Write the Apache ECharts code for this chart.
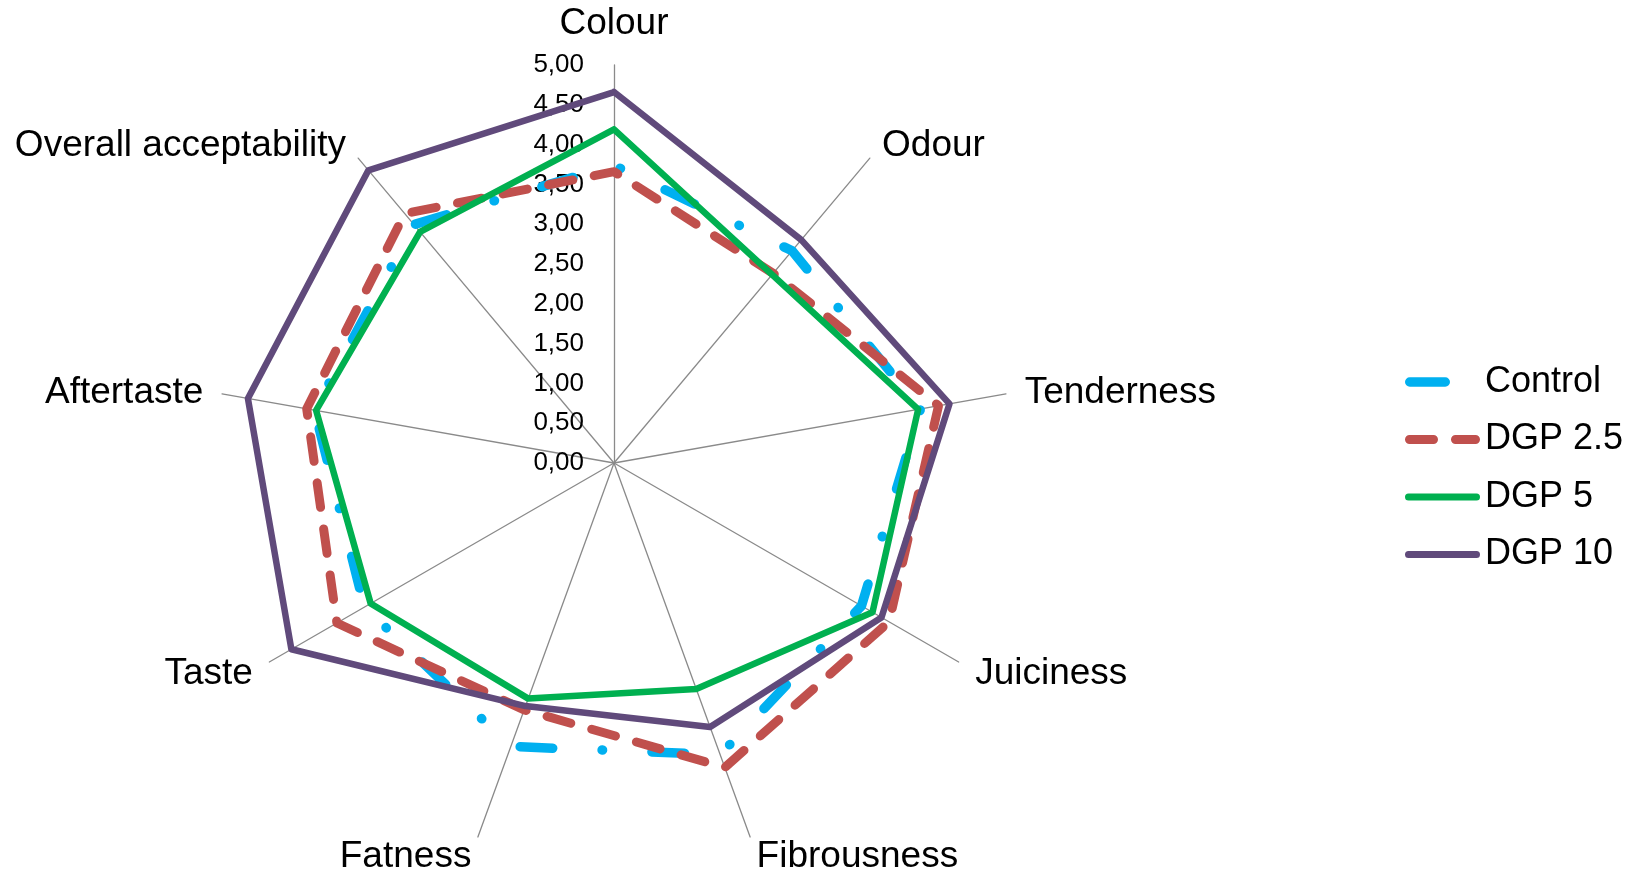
<!DOCTYPE html>
<html>
<head>
<meta charset="utf-8">
<script src="https://cdn.jsdelivr.net/npm/echarts@6/dist/echarts.min.js"></script>
<style>
  html, body { margin: 0; padding: 0; background: #ffffff; }
  #chart { width: 1633px; height: 870px; }
</style>
</head>
<body>
<div id="chart"></div>
<script>
// Sensory attributes, read clockwise from the top
const categories = ['Colour', 'Odour', 'Tenderness', 'Juiciness', 'Fibrousness',
                    'Fatness', 'Taste', 'Aftertaste', 'Overall acceptability'];

const seriesNames = ['Control', 'DGP 2.5', 'DGP 5', 'DGP 10'];

// Mean panel scores per attribute (same order as categories)
const control = [3.74, 3.48, 3.91, 3.59, 3.90, 3.79, 3.62, 3.82, 3.91];
const dgp25   = [3.66, 3.11, 4.14, 3.99, 4.07, 3.30, 4.02, 3.92, 4.09];
const dgp5    = [4.19, 3.09, 3.88, 3.75, 3.02, 3.15, 3.53, 3.80, 3.79];
const dgp10   = [4.66, 3.66, 4.28, 3.88, 3.53, 3.25, 4.68, 4.67, 4.80];

// Score scale
const scaleMin = 0;
const scaleMax = 5;
const scaleSteps = 10;

const FONT = "'Liberation Sans', Arial, Helvetica, sans-serif";
const lineColors = ['#00B0F0', '#C0504D', '#00B050', '#604A7B'];
const lineWidths = [9.5, 9, 6.5, 6.5];
// Nominal dash patterns (long dash-dot, dash, solid, solid)
const basePatterns = [[33, 50, 0.5, 50], [25, 22], null, null];

const allValues = [control, dgp25, dgp5, dgp10];

// ECharts places radar indicators counter-clockwise; walk the list backwards
// (keeping Colour first) so the attributes run clockwise.
const n = categories.length;
const order = categories.map((_, i) => (n - i) % n);

// Legend keys: rounded dash bars inside a fixed 75x10 box
function bar(x0, x1, t) {
  const r = t / 2, y0 = 5 - r, y1 = 5 + r;
  return `M${x0 + r},${y0} L${x1 - r},${y0} A${r},${r} 0 0 1 ${x1 - r},${y1} ` +
         `L${x0 + r},${y1} A${r},${r} 0 0 1 ${x0 + r},${y0} Z`;
}
const frame = 'M0,0 L0.01,0 L0,0.01 Z M75,10 L74.99,10 L75,9.99 Z ';
const legendKeys = [
  frame + bar(0, 45, 9.5),
  frame + bar(0, 33, 9) + ' ' + bar(46, 75, 9),
  frame + bar(0, 75, 7),
  frame + bar(0, 75, 7)
];

function seriesData(types, offsets) {
  return allValues.map((vals, k) => ({
    name: seriesNames[k],
    value: order.map(i => vals[i]),
    itemStyle: { color: lineColors[k] },
    lineStyle: {
      color: lineColors[k],
      width: lineWidths[k],
      type: types[k],
      dashOffset: offsets[k],
      cap: 'round',
      join: 'round'
    }
  }));
}

const chart = echarts.init(document.getElementById('chart'), null, { renderer: 'canvas' });

chart.setOption({
  backgroundColor: '#ffffff',
  animation: false,
  color: lineColors,
  legend: {
    orient: 'vertical',
    left: 1400,
    top: 355,
    itemWidth: 75,
    itemHeight: 10,
    itemGap: 13.5,
    selectedMode: false,
    itemStyle: { borderWidth: 0 },
    textStyle: { fontSize: 36, lineHeight: 44, color: '#000000', fontFamily: FONT },
    data: seriesNames.map((name, k) => ({
      name: name,
      icon: 'path://' + legendKeys[k],
      itemStyle: { color: lineColors[k], borderWidth: 0 }
    }))
  },
  radar: {
    center: [614, 463],
    radius: 398,
    startAngle: 90,
    splitNumber: scaleSteps,
    shape: 'polygon',
    axisNameGap: 19,
    axisName: {
      color: '#000000',
      fontSize: 37,
      fontFamily: FONT,
      // the top name sits on its baseline, the side names are centred on their spokes
      formatter: name => (name === categories[0] ? '{top|' : '{side|') + name + '}',
      rich: {
        top: { fontSize: 37, fontFamily: FONT, color: '#000000', padding: [0, 0, 4, 0] },
        side: { fontSize: 37, fontFamily: FONT, color: '#000000', padding: [4, 0, 0, 0] }
      }
    },
    indicator: order.map(i => Object.assign(
      { name: categories[i], min: scaleMin, max: scaleMax },
      i === 0 ? { axisLabel: { show: true } } : {}
    )),
    axisLine: { lineStyle: { color: '#8a8a8a', width: 1.3 } },
    axisTick: { show: false },
    axisLabel: {
      show: false,
      fontSize: 26,
      color: '#000000',
      fontFamily: FONT,
      margin: 30,
      formatter: v => Number(v).toFixed(2).replace('.', ',')
    },
    splitLine: { show: false },
    splitArea: { show: false }
  },
  series: [{
    type: 'radar',
    symbol: 'none',
    silent: true,
    data: seriesData(basePatterns.map(p => p || 'solid'), [93.5, 7.5, 0, 0])
  }]
});

// Stretch each dash pattern a touch so a whole number of periods fits the closed
// outline; the pattern then runs on unbroken through the Colour vertex.
try {
  const radarSys = chart.getModel().getComponent('radar').coordinateSystem;
  const types = [], offsets = [];
  allValues.forEach((vals, k) => {
    const base = basePatterns[k];
    if (!base) { types.push('solid'); offsets.push(0); return; }
    const pts = order.map((i, j) => radarSys.dataToPoint(vals[i], j));
    let len = 0;
    for (let j = 0; j < pts.length; j++) {
      const a = pts[j], b = pts[(j + 1) % pts.length];
      len += Math.hypot(b[0] - a[0], b[1] - a[1]);
    }
    const period = base.reduce((s, v) => s + v, 0);
    const s = len / Math.max(1, Math.round(len / period)) / period;
    types.push(base.map(v => v * s));
    // dash-dot: dot just clockwise of Colour; dash: dash straddling Colour
    offsets.push(base.length === 4 ? 83.25 * s + 7 : 4.5);
  });
  chart.setOption({ series: [{ data: seriesData(types, offsets) }] });
} catch (e) {
  // keep the nominal patterns
}
</script>
</body>
</html>
